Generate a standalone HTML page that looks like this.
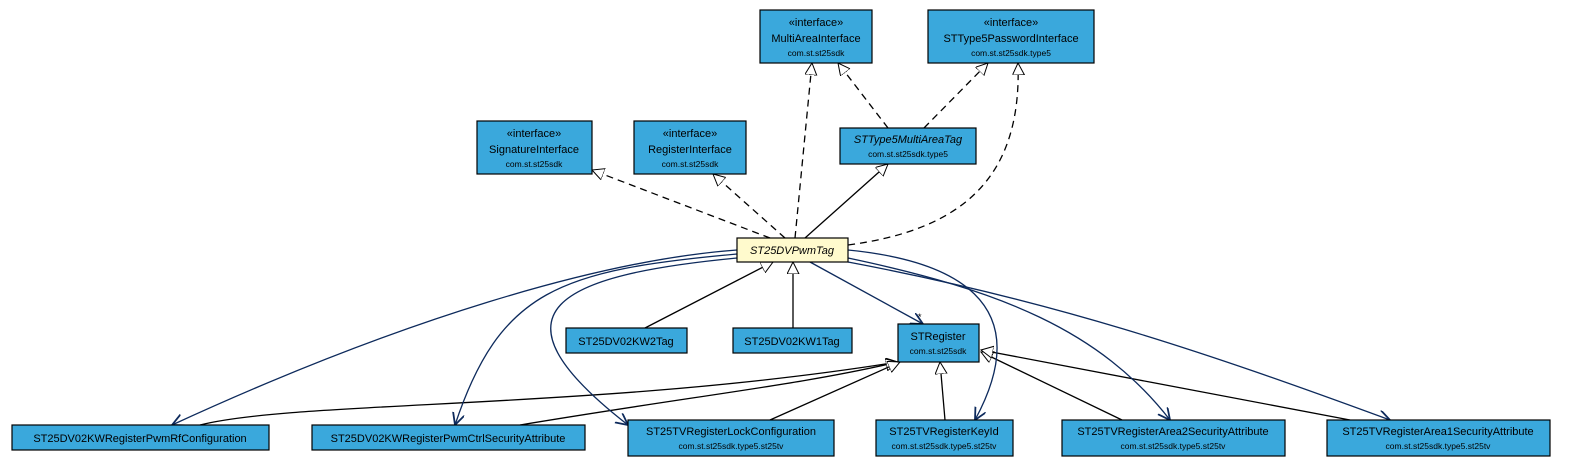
<!DOCTYPE html>
<html><head><meta charset="utf-8"><style>
html,body{margin:0;padding:0;background:#fff;width:1595px;height:475px;overflow:hidden}
svg text{font-family:"Liberation Sans",sans-serif;fill:#000}
</style></head><body>
<svg width="1595" height="475" viewBox="0 0 1595 475" xmlns="http://www.w3.org/2000/svg">
<defs>
<marker id="tri" markerWidth="14" markerHeight="14" refX="12" refY="6" orient="auto" markerUnits="userSpaceOnUse">
<path d="M0,0 L12,6 L0,12 Z" fill="#fff" stroke="#000" stroke-width="1"/></marker>
<marker id="open" markerWidth="14" markerHeight="14" refX="12" refY="6" orient="auto" markerUnits="userSpaceOnUse">
<path d="M0,0 L12,6 L0,12" fill="none" stroke="#0d2a5c" stroke-width="1.8"/></marker>
</defs>
<g fill="none" stroke="#000" stroke-width="1.3">
<!-- realizations -->
<path d="M770,238 L592,170" stroke-dasharray="7,5" marker-end="url(#tri)"/>
<path d="M785,238 L713,174" stroke-dasharray="7,5" marker-end="url(#tri)"/>
<path d="M795,238 L812,63" stroke-dasharray="7,5" marker-end="url(#tri)"/>
<path d="M888,128 L838,63" stroke-dasharray="7,5" marker-end="url(#tri)"/>
<path d="M924,128 L988,63" stroke-dasharray="7,5" marker-end="url(#tri)"/>
<path d="M848,245 C960,230 1022,180 1018,63" stroke-dasharray="7,5" marker-end="url(#tri)"/>
<!-- generalizations -->
<path d="M805,238 L888,164" marker-end="url(#tri)"/>
<path d="M645,328 L773,262" marker-end="url(#tri)"/>
<path d="M793,328 L793,262" marker-end="url(#tri)"/>
<path d="M200,425 C300,400 600,410 898,362" marker-end="url(#tri)"/>
<path d="M520,425 C700,395 800,385 898,362" marker-end="url(#tri)"/>
<path d="M770,420 L900,362" marker-end="url(#tri)"/>
<path d="M945,420 L940,362" marker-end="url(#tri)"/>
<path d="M1122,420 L981,352" marker-end="url(#tri)"/>
<path d="M1350,420 L981,350" marker-end="url(#tri)"/>
</g>
<g fill="none" stroke="#0d2a5c" stroke-width="1.3">
<path d="M810,262 L923,324" marker-end="url(#open)"/>
<path d="M737,250 C600,260 400,320 172,425" marker-end="url(#open)"/>
<path d="M737,254 C560,270 500,290 455,425" marker-end="url(#open)"/>
<path d="M737,258 C560,275 480,310 628,425" marker-end="url(#open)"/>
<path d="M848,250 C950,260 1040,300 975,420" marker-end="url(#open)"/>
<path d="M848,258 C1000,290 1100,330 1170,420" marker-end="url(#open)"/>
<path d="M848,262 C1050,300 1200,350 1390,420" marker-end="url(#open)"/>
</g>
<text x="918" y="320" font-size="9" fill="#0d2a5c">*</text>
<g stroke="#000" stroke-width="1.2">
<rect x="760" y="10" width="112" height="53" fill="#3aa8dc"/>
<rect x="928" y="10" width="166" height="53" fill="#3aa8dc"/>
<rect x="477" y="121" width="115" height="53" fill="#3aa8dc"/>
<rect x="634" y="121" width="112" height="53" fill="#3aa8dc"/>
<rect x="840" y="128" width="136" height="36" fill="#3aa8dc"/>
<rect x="737" y="238" width="111" height="24" fill="#fffacd"/>
<rect x="566" y="328" width="121" height="25" fill="#3aa8dc"/>
<rect x="733" y="328" width="119" height="25" fill="#3aa8dc"/>
<rect x="898" y="324" width="81" height="38" fill="#3aa8dc"/>
<rect x="12" y="425" width="257" height="25" fill="#3aa8dc"/>
<rect x="312" y="425" width="273" height="25" fill="#3aa8dc"/>
<rect x="628" y="420" width="206" height="36" fill="#3aa8dc"/>
<rect x="876" y="420" width="137" height="36" fill="#3aa8dc"/>
<rect x="1062" y="420" width="223" height="36" fill="#3aa8dc"/>
<rect x="1327" y="420" width="223" height="36" fill="#3aa8dc"/>
</g>
<g text-anchor="middle" font-size="11">
<text x="816" y="26">«interface»</text><text x="816" y="42">MultiAreaInterface</text><text x="816" y="56" font-size="8.5">com.st.st25sdk</text>
<text x="1011" y="26">«interface»</text><text x="1011" y="42">STType5PasswordInterface</text><text x="1011" y="56" font-size="8.5">com.st.st25sdk.type5</text>
<text x="534" y="137">«interface»</text><text x="534" y="153">SignatureInterface</text><text x="534" y="167" font-size="8.5">com.st.st25sdk</text>
<text x="690" y="137">«interface»</text><text x="690" y="153">RegisterInterface</text><text x="690" y="167" font-size="8.5">com.st.st25sdk</text>
<text x="908" y="143" font-style="italic">STType5MultiAreaTag</text><text x="908" y="157" font-size="8.5">com.st.st25sdk.type5</text>
<text x="792" y="254" font-style="italic">ST25DVPwmTag</text>
<text x="626" y="345">ST25DV02KW2Tag</text>
<text x="792" y="345">ST25DV02KW1Tag</text>
<text x="938" y="340">STRegister</text><text x="938" y="354" font-size="8.5">com.st.st25sdk</text>
<text x="140" y="442">ST25DV02KWRegisterPwmRfConfiguration</text>
<text x="448" y="442">ST25DV02KWRegisterPwmCtrlSecurityAttribute</text>
<text x="731" y="435">ST25TVRegisterLockConfiguration</text><text x="731" y="449" font-size="8.5">com.st.st25sdk.type5.st25tv</text>
<text x="944" y="435">ST25TVRegisterKeyId</text><text x="944" y="449" font-size="8.5">com.st.st25sdk.type5.st25tv</text>
<text x="1173" y="435">ST25TVRegisterArea2SecurityAttribute</text><text x="1173" y="449" font-size="8.5">com.st.st25sdk.type5.st25tv</text>
<text x="1438" y="435">ST25TVRegisterArea1SecurityAttribute</text><text x="1438" y="449" font-size="8.5">com.st.st25sdk.type5.st25tv</text>
</g>
</svg>
</body></html>
